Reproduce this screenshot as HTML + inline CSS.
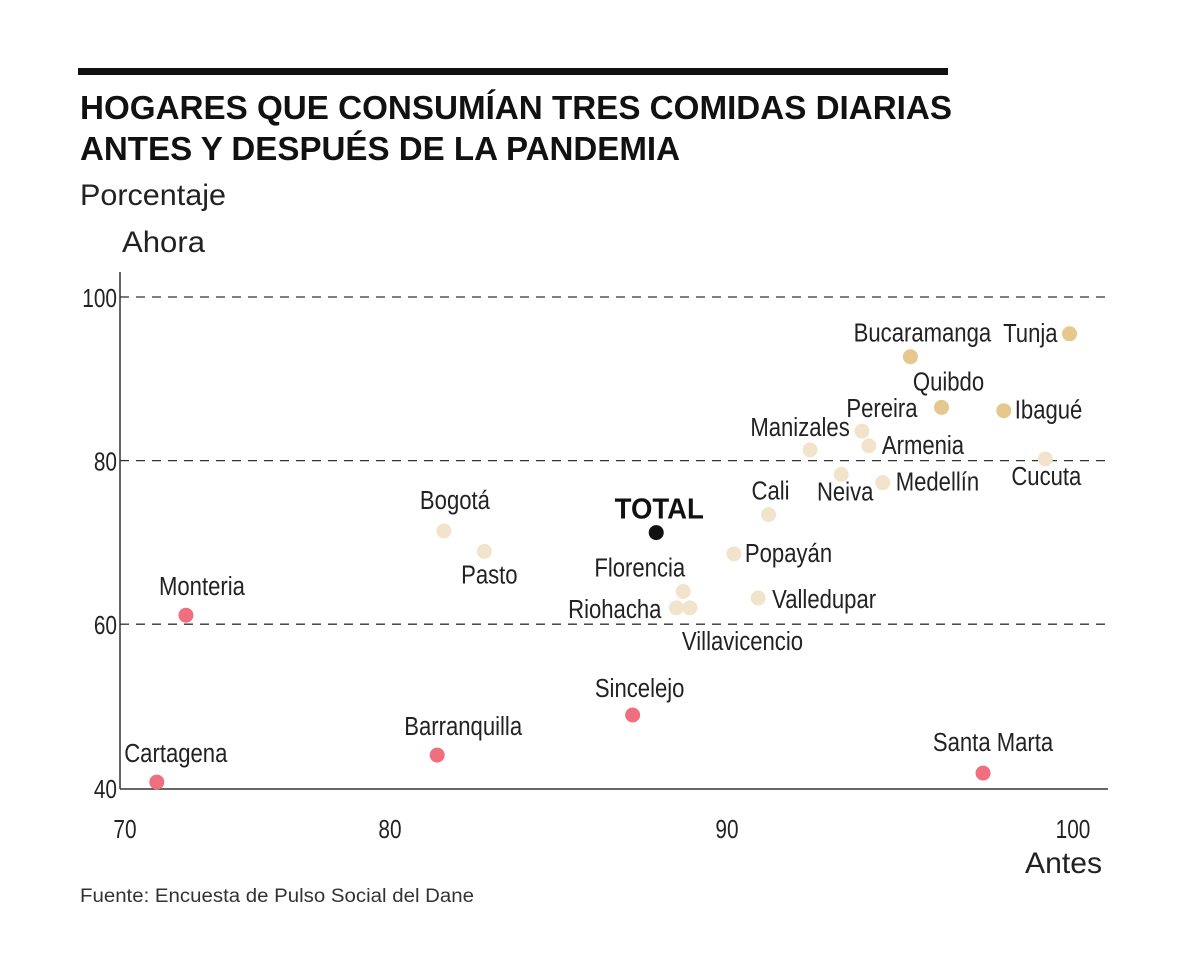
<!DOCTYPE html>
<html><head><meta charset="utf-8"><style>
body{margin:0;background:#fff;width:1200px;height:968px;overflow:hidden}
svg text{font-family:"Liberation Sans Narrow","Liberation Sans",sans-serif}
</style></head><body>
<svg id="c" width="1200" height="968" viewBox="0 0 1200 968">
<rect x="78" y="68" width="870" height="7" fill="#111"/>
<text x="80" y="119" font-size="33" font-weight="bold" fill="#111" style="font-family:'Liberation Sans',sans-serif" textLength="872" lengthAdjust="spacingAndGlyphs">HOGARES QUE CONSUMÍAN TRES COMIDAS DIARIAS</text>
<text x="80" y="160" font-size="33" font-weight="bold" fill="#111" style="font-family:'Liberation Sans',sans-serif" textLength="600" lengthAdjust="spacingAndGlyphs">ANTES Y DESPUÉS DE LA PANDEMIA</text>
<text x="80" y="205" font-size="30" fill="#222" style="font-family:'Liberation Sans',sans-serif" textLength="146" lengthAdjust="spacingAndGlyphs">Porcentaje</text>
<text x="122" y="252" font-size="30" fill="#222" style="font-family:'Liberation Sans',sans-serif" textLength="83" lengthAdjust="spacingAndGlyphs">Ahora</text>
<text x="1025" y="873" font-size="30" fill="#222" style="font-family:'Liberation Sans',sans-serif" textLength="77" lengthAdjust="spacingAndGlyphs">Antes</text>
<text x="80" y="902" font-size="19" fill="#333" style="font-family:'Liberation Sans',sans-serif" textLength="394" lengthAdjust="spacingAndGlyphs">Fuente: Encuesta de Pulso Social del Dane</text>
<g id="grid"></g><g id="pts"></g>
</svg>
<script>
const cities=["Cartagena","Monteria","Barranquilla","Sincelejo","Santa Marta","Bogotá","Pasto","TOTAL","Florencia","Riohacha","Villavicencio","Popayán","Valledupar","Cali","Manizales","Neiva","Pereira","Armenia","Medellín","Bucaramanga","Quibdo","Ibagué","Cucuta","Tunja"];
const antes=[71.2,72.3,81.4,87.2,97.4,81.6,82.8,87.9,88.7,88.5,88.9,90.2,90.9,91.2,92.4,93.3,93.9,94.1,94.5,95.3,96.2,98.0,99.2,99.9];
const ahora=[40.7,61.1,44.0,48.9,41.8,71.4,68.9,71.2,64.0,62.0,62.0,68.6,63.2,73.4,81.3,78.3,83.6,81.8,77.3,92.7,86.5,86.1,80.2,95.5];
const group=["r","r","r","r","r","l","l","t","l","l","l","l","l","l","l","l","l","l","l","g","g","g","l","g"];
const xTicks=[70,80,90,100];
const yTicks=[40,60,80,100];
const xPix=[125,390,727,1073];
function X(v){for(let i=0;i<xTicks.length-1;i++){if(v<=xTicks[i+1]||i==xTicks.length-2){const t=(v-xTicks[i])/(xTicks[i+1]-xTicks[i]);return xPix[i]+t*(xPix[i+1]-xPix[i]);}}}
function Y(v){return 297+(100-v)*8.18;}
const labelOffsets=[[19,-20,"middle"],[16,-20,"middle"],[26,-20,"middle"],[7,-18,"middle"],[10,-22,"middle"],[11,-22,"middle"],[5,32,"middle"],[3,-14,"middle"],[2,-15,"end"],[-15,10,"end"],[-8,42,"start"],[11,8,"start"],[14,10,"start"],[2,-15,"middle"],[-10,-14,"middle"],[4,26,"middle"],[20,-14,"middle"],[13,8,"start"],[13,8,"start"],[12,-15,"middle"],[7,-17,"middle"],[11,8,"start"],[1,26,"middle"],[-12,8,"end"]];
const colors={r:"#ef6f7f",l:"#f2e3cd",g:"#e6c78d",t:"#111"};
const ns="http://www.w3.org/2000/svg";
const grid=document.getElementById('grid'),pts=document.getElementById('pts');
function mk(p,tag,a){const e=document.createElementNS(ns,tag);for(const k in a)e.setAttribute(k,a[k]);p.appendChild(e);return e;}
function ctext(p,x,y,anchor,size,str,sx){const g=mk(p,'g',{transform:`translate(${x},${y}) scale(${sx},1)`});const t=mk(g,'text',{x:0,y:0,'text-anchor':anchor,'font-size':size,fill:'#222'});t.textContent=str;return t;}
yTicks.forEach(v=>{
 if(v>40){const l=mk(grid,'line',{x1:120,x2:1108,y1:Y(v),y2:Y(v),stroke:'#333','stroke-width':1.3,'stroke-dasharray':'9,7'});
 
 }
 const t=ctext(grid,117,Y(v)+10,'end',26,v,0.8);
 
 
});
xTicks.forEach(v=>{const t=ctext(grid,X(v),838,'middle',26,v,0.8);
 
 });
const ya=mk(grid,'line',{x1:120,x2:120,y1:272,y2:789,stroke:'#333','stroke-width':1.5});


const xa=mk(grid,'line',{x1:120,x2:1108,y1:789,y2:789,stroke:'#333','stroke-width':1.5});


cities.forEach((c,i)=>{
 const x=X(antes[i]),y=Y(ahora[i]);
 const d=mk(pts,'circle',{cx:x,cy:y,r:7.5,fill:colors[group[i]]});
 
 
 const o=labelOffsets[i];
 const t=ctext(pts,x+o[0],y+o[1],o[2],c=="TOTAL"?29:26,c,c=="TOTAL"?0.95:0.85);
 if(c=="TOTAL"){t.setAttribute('font-weight','bold');t.setAttribute('fill','#111');t.setAttribute('style',"font-family:'Liberation Sans',sans-serif");}
 
 
});
</script>
</body></html>
